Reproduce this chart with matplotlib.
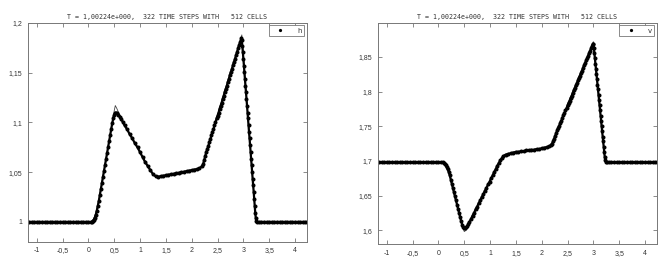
import matplotlib
matplotlib.use("Agg")
import matplotlib.pyplot as plt
from matplotlib.ticker import FuncFormatter, MultipleLocator

title = "T = 1,00224e+000,  322 TIME STEPS WITH   512 CELLS"

# numerical solution h (x, value)
h_num = [
    (-1.20, 1.0), (-1.15, 1.0), (-1.10, 1.0), (-1.05, 1.0), (-1.00, 1.0), (-0.95, 1.0), (-0.90, 1.0),
    (-0.85, 1.0), (-0.80, 1.0), (-0.75, 1.0), (-0.70, 1.0), (-0.65, 1.0), (-0.60, 1.0), (-0.55, 1.0),
    (-0.50, 1.0), (-0.45, 1.0), (-0.40, 1.0), (-0.35, 1.0), (-0.30, 1.0), (-0.25, 1.0), (-0.20, 1.0),
    (-0.15, 1.0), (-0.10, 1.0), (-0.05, 1.0), (0.00, 1.0), (0.04, 1.0),
    (0.06, 1.000), (0.08, 1.001), (0.10, 1.002), (0.12, 1.004), (0.14, 1.007), (0.16, 1.011),
    (0.18, 1.016), (0.20, 1.021), (0.22, 1.027), (0.24, 1.033), (0.26, 1.039), (0.28, 1.045),
    (0.30, 1.051), (0.32, 1.057), (0.34, 1.063), (0.36, 1.069), (0.38, 1.075), (0.40, 1.081),
    (0.42, 1.087), (0.44, 1.093), (0.46, 1.099), (0.48, 1.104), (0.50, 1.108), (0.52, 1.110),
    (0.55, 1.110), (0.58, 1.108), (0.61, 1.106), (0.64, 1.103), (0.67, 1.100), (0.70, 1.097),
    (0.75, 1.093), (0.80, 1.088), (0.85, 1.084), (0.90, 1.079), (0.95, 1.075), (1.00, 1.070),
    (1.05, 1.065), (1.10, 1.060), (1.15, 1.056), (1.20, 1.052), (1.25, 1.048), (1.30, 1.046),
    (1.35, 1.0455), (1.40, 1.046), (1.45, 1.0465), (1.50, 1.047), (1.55, 1.0475), (1.60, 1.048),
    (1.65, 1.0485), (1.70, 1.049), (1.75, 1.0495), (1.80, 1.050), (1.85, 1.0505), (1.90, 1.051),
    (1.95, 1.0515), (2.00, 1.052), (2.05, 1.0525), (2.10, 1.053), (2.15, 1.054), (2.20, 1.056),
    (2.22, 1.058), (2.24, 1.062), (2.26, 1.066), (2.28, 1.070), (2.30, 1.073), (2.32, 1.076),
    (2.34, 1.080), (2.36, 1.083), (2.38, 1.087), (2.40, 1.090), (2.42, 1.093), (2.44, 1.097),
    (2.46, 1.100), (2.48, 1.104), (2.50, 1.107), (2.52, 1.110), (2.54, 1.114), (2.56, 1.117),
    (2.58, 1.120), (2.60, 1.124), (2.62, 1.127), (2.64, 1.131), (2.66, 1.134), (2.68, 1.137),
    (2.70, 1.141), (2.72, 1.144), (2.74, 1.148), (2.76, 1.151), (2.78, 1.154), (2.80, 1.158),
    (2.82, 1.161), (2.84, 1.164), (2.86, 1.168), (2.88, 1.171), (2.90, 1.175), (2.92, 1.178),
    (2.94, 1.181), (2.96, 1.185), (2.97, 1.183), (2.98, 1.177), (2.99, 1.171), (3.00, 1.164),
    (3.01, 1.157), (3.02, 1.151), (3.03, 1.144), (3.04, 1.137), (3.05, 1.131), (3.06, 1.124),
    (3.07, 1.117), (3.08, 1.110), (3.09, 1.104), (3.10, 1.097), (3.11, 1.090), (3.12, 1.084),
    (3.13, 1.077), (3.14, 1.070), (3.15, 1.063), (3.16, 1.057), (3.17, 1.050), (3.18, 1.043),
    (3.19, 1.037), (3.20, 1.030), (3.21, 1.023), (3.22, 1.016), (3.23, 1.009), (3.24, 1.004),
    (3.25, 1.001), (3.27, 1.0), (3.30, 1.0), (3.35, 1.0), (3.40, 1.0), (3.45, 1.0), (3.50, 1.0),
    (3.55, 1.0), (3.60, 1.0), (3.65, 1.0), (3.70, 1.0), (3.75, 1.0), (3.80, 1.0), (3.85, 1.0),
    (3.90, 1.0), (3.95, 1.0), (4.00, 1.0), (4.05, 1.0), (4.10, 1.0), (4.15, 1.0), (4.20, 1.0),
    (4.23, 1.0),
]

# exact solution h
h_exact = [
    (-1.20, 1.0), (0.06, 1.0), (0.10, 1.003), (0.15, 1.010), (0.20, 1.021), (0.46, 1.100),
    (0.50, 1.112), (0.52, 1.117), (0.55, 1.114), (0.60, 1.108), (0.70, 1.097), (1.20, 1.052),
    (1.30, 1.045), (1.35, 1.045), (2.20, 1.055), (2.25, 1.064), (2.97, 1.188), (3.22, 1.016),
    (3.25, 1.0), (4.23, 1.0),
]

# numerical solution v
v_num = [
    (-1.20, 1.698), (-1.15, 1.698), (-1.10, 1.698), (-1.05, 1.698), (-1.00, 1.698), (-0.95, 1.698),
    (-0.90, 1.698), (-0.85, 1.698), (-0.80, 1.698), (-0.75, 1.698), (-0.70, 1.698), (-0.65, 1.698),
    (-0.60, 1.698), (-0.55, 1.698), (-0.50, 1.698), (-0.45, 1.698), (-0.40, 1.698), (-0.35, 1.698),
    (-0.30, 1.698), (-0.25, 1.698), (-0.20, 1.698), (-0.15, 1.698), (-0.10, 1.698), (-0.05, 1.698),
    (0.00, 1.698), (0.05, 1.698), (0.08, 1.698), (0.10, 1.697), (0.12, 1.696), (0.14, 1.694),
    (0.16, 1.691), (0.18, 1.688), (0.20, 1.684), (0.22, 1.679), (0.24, 1.673), (0.26, 1.667),
    (0.28, 1.661), (0.30, 1.655), (0.32, 1.649), (0.34, 1.643), (0.36, 1.637), (0.38, 1.631),
    (0.40, 1.625), (0.42, 1.619), (0.44, 1.613), (0.46, 1.608), (0.48, 1.605), (0.50, 1.603),
    (0.52, 1.603), (0.54, 1.604), (0.56, 1.606), (0.58, 1.609), (0.60, 1.612), (0.63, 1.616),
    (0.66, 1.621), (0.69, 1.625), (0.72, 1.630), (0.75, 1.634), (0.78, 1.639), (0.81, 1.643),
    (0.84, 1.648), (0.87, 1.652), (0.90, 1.657), (0.93, 1.661), (0.96, 1.666), (0.99, 1.670),
    (1.02, 1.675), (1.05, 1.679), (1.08, 1.684), (1.11, 1.688), (1.14, 1.693), (1.17, 1.697),
    (1.20, 1.701), (1.23, 1.704), (1.26, 1.707), (1.30, 1.709), (1.35, 1.710), (1.40, 1.711),
    (1.45, 1.712), (1.50, 1.713), (1.55, 1.713), (1.60, 1.714), (1.65, 1.714), (1.70, 1.715),
    (1.75, 1.715), (1.80, 1.716), (1.85, 1.716), (1.90, 1.717), (1.95, 1.717), (2.00, 1.718),
    (2.05, 1.719), (2.10, 1.720), (2.15, 1.721), (2.18, 1.723), (2.20, 1.725), (2.22, 1.728),
    (2.24, 1.732), (2.26, 1.736), (2.28, 1.740), (2.30, 1.744), (2.32, 1.748), (2.34, 1.751),
    (2.36, 1.755), (2.38, 1.758), (2.40, 1.762), (2.42, 1.766), (2.44, 1.769), (2.46, 1.773),
    (2.48, 1.776), (2.50, 1.780), (2.52, 1.784), (2.54, 1.787), (2.56, 1.791), (2.58, 1.794),
    (2.60, 1.798), (2.62, 1.802), (2.64, 1.805), (2.66, 1.809), (2.68, 1.812), (2.70, 1.816),
    (2.72, 1.820), (2.74, 1.823), (2.76, 1.827), (2.78, 1.830), (2.80, 1.834), (2.82, 1.838),
    (2.84, 1.841), (2.86, 1.845), (2.88, 1.848), (2.90, 1.852), (2.92, 1.856), (2.94, 1.859),
    (2.96, 1.863), (2.98, 1.866), (2.99, 1.868), (3.00, 1.869), (3.01, 1.863), (3.02, 1.855),
    (3.03, 1.848), (3.04, 1.840), (3.05, 1.833), (3.06, 1.825), (3.07, 1.818), (3.08, 1.810),
    (3.09, 1.803), (3.10, 1.795), (3.11, 1.788), (3.12, 1.780), (3.13, 1.773), (3.14, 1.765),
    (3.15, 1.758), (3.16, 1.750), (3.17, 1.743), (3.18, 1.735), (3.19, 1.728), (3.20, 1.720),
    (3.21, 1.713), (3.22, 1.706), (3.23, 1.701), (3.24, 1.699), (3.26, 1.698), (3.30, 1.698),
    (3.35, 1.698), (3.40, 1.698), (3.45, 1.698), (3.50, 1.698), (3.55, 1.698), (3.60, 1.698),
    (3.65, 1.698), (3.70, 1.698), (3.75, 1.698), (3.80, 1.698), (3.85, 1.698), (3.90, 1.698),
    (3.95, 1.698), (4.00, 1.698), (4.05, 1.698), (4.10, 1.698), (4.15, 1.698), (4.20, 1.698),
    (4.23, 1.698),
]

# exact solution v
v_exact = [
    (-1.20, 1.698), (0.07, 1.698), (0.12, 1.695), (0.20, 1.683), (0.44, 1.612), (0.50, 1.598),
    (0.54, 1.600), (0.60, 1.611), (1.20, 1.701), (1.30, 1.709), (2.17, 1.721), (2.25, 1.734),
    (3.00, 1.872), (3.22, 1.706), (3.25, 1.698), (4.23, 1.698),
]

panels = [
    ("h", h_num, h_exact, (0.98, 1.2), [0.0417, 0.094, 0.415, 0.82]),
    ("v", v_num, v_exact, (1.58, 1.899), [0.5625, 0.086, 0.415, 0.828]),
]

comma = FuncFormatter(lambda val, pos: ("%g" % round(val, 4)).replace(".", ","))
frame = "#777777"

fig = plt.figure(figsize=(6.72, 2.67), dpi=100)
for name, num, exact, ylim, rect in panels:
    ax = fig.add_axes(rect)
    ex_x, ex_y = zip(*exact)
    ax.plot(ex_x, ex_y, color="#444444", lw=0.6)
    nx, ny = zip(*num)
    ax.plot(nx, ny, color="black", lw=1.6)
    ax.plot(nx, ny, "o", color="black", ms=2.9, mew=0, label=name)
    ax.set_xlim(-1.17, 4.23)
    ax.set_ylim(*ylim)
    ax.xaxis.set_major_locator(MultipleLocator(0.5))
    ax.yaxis.set_major_locator(MultipleLocator(0.05))
    ax.xaxis.set_major_formatter(comma)
    ax.yaxis.set_major_formatter(comma)
    ax.tick_params(direction="in", length=3, width=0.6, color=frame, top=True, right=True,
                   labelsize=5, labelcolor="#333333", pad=4)
    for t in ax.get_xticklabels() + ax.get_yticklabels():
        t.set_family("Liberation Sans")
    for s in ax.spines.values():
        s.set_color(frame)
        s.set_linewidth(0.7)
    ax.set_title(title, fontsize=4.8, family="DejaVu Sans Mono", color="#333333", pad=3)
    leg = ax.legend(loc="upper right", fontsize=5, handlelength=2.6, handletextpad=1.2,
                    borderpad=0.35, borderaxespad=0.35, fancybox=False, framealpha=1,
                    edgecolor=frame, markerscale=0.8)
    leg.get_frame().set_linewidth(0.6)
    for t in leg.get_texts():
        t.set_color("#333333")

fig.savefig("out.png", dpi=100)
